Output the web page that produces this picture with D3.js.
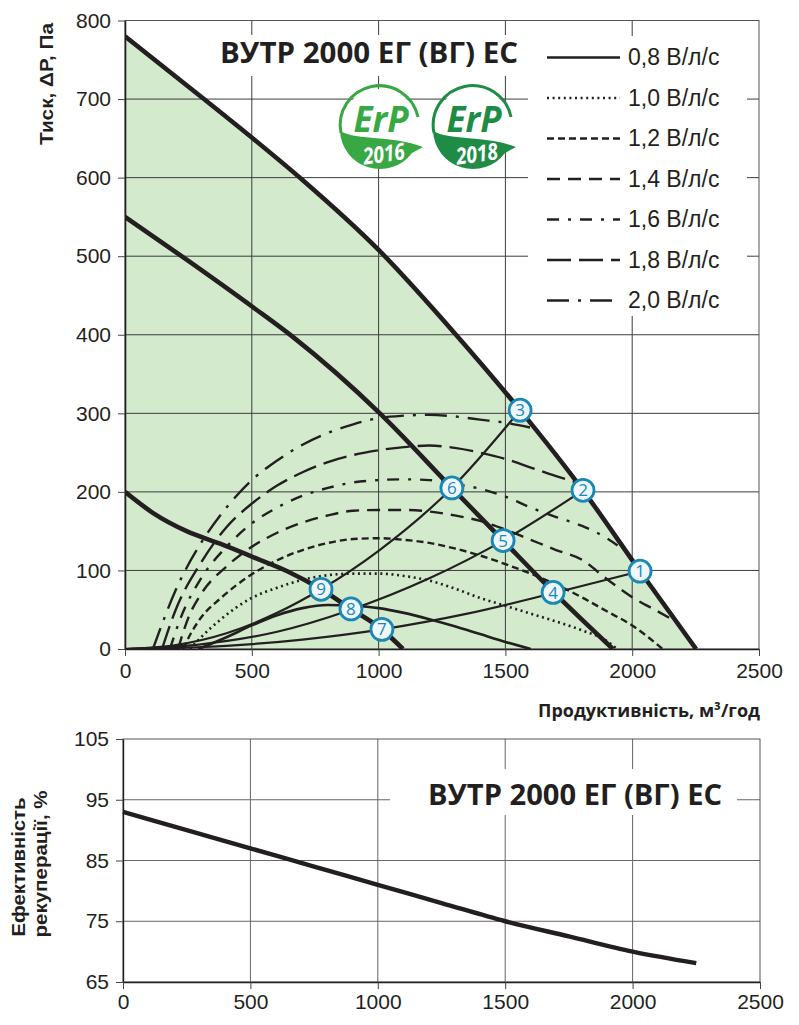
<!DOCTYPE html>
<html lang="uk">
<head>
<meta charset="utf-8">
<title>ВУТР 2000 ЕГ (ВГ) ЕС</title>
<script src="https://d3js.org/d3.v7.min.js"></script>
<style>
  body { margin: 0; background: #fff; }
  svg { display: block; }
  .tick text { font-family: "Liberation Sans", Arial, sans-serif; fill: #231f20; }
  .lbl { font-family: "Liberation Sans", Arial, sans-serif; font-weight: bold; fill: #231f20; }
  .ttl { font-family: "Open Sans", sans-serif; font-weight: 700; fill: #231f20; }
</style>
</head>
<body>
<div id="vis"></div>
<script>
// ---- data ----
const flowTicks = [0, 500, 1000, 1500, 2000, 2500];
const pressureTicks = [0, 100, 200, 300, 400, 500, 600, 700, 800];
const efficiencyTicks = [65, 75, 85, 95, 105];

// fan curves [flow m3/h, pressure Pa]
const fanHigh = [[0,780],[300,703],[500,651],[700,597],[1000,508],[1300,402],[1558,304],[1806,202],[2031,99],[2252,0]];
const fanMid  = [[0,550],[250,494],[505,435],[663,397],[1005,300],[1289,205],[1491,138],[1688,73],[1924,0]];
const fanLow  = [[0,200],[111,173],[243,150],[375,134],[505,117],[640,99],[773,76],[891,51],[1013,25],[1096,0]];

// system (network) curves
const sysA = [[0,0],[200,5],[400,20],[600,46],[773,76],[1000,125],[1289,205],[1558,304]];
const sysB = [[0,0],[300,6],[600,22],[891,50],[1200,90],[1491,138],[1806,202]];
const sysC = [[0,0],[400,4],[700,12],[1013,25],[1350,45],[1688,71],[2031,99]];

// SFP curves
const sfp08 = [[290,0],[400,15],[500,30],[600,43],[700,52],[800,56],[900,55],[1000,52],[1100,46],[1200,38],[1300,29],[1400,19],[1500,9],[1600,0]];
const sfp10 = [[256,0],[300,15],[375,37],[500,65],[600,78],[700,88],[800,94],[900,96],[1000,96],[1100,93],[1200,87],[1300,77],[1400,65],[1500,55],[1600,45],[1700,35],[1800,24],[1900,10],[1940,0]];
const sfp12 = [[229,0],[260,20],[300,40],[375,64],[500,95],[600,113],[700,126],[800,135],[900,140],[1000,141],[1100,139],[1200,135],[1300,128],[1400,119],[1500,108],[1600,96],[1700,82],[1800,66],[1900,48],[2000,30],[2120,0]];
const sfp14 = [[209,0],[250,40],[300,70],[400,105],[500,130],[600,148],[700,161],[800,170],[900,176],[1000,177],[1100,177],[1200,175],[1300,170],[1400,163],[1500,152],[1600,139],[1700,126],[1800,114],[1900,89],[2000,66],[2100,48],[2172,35]];
const sfp16 = [[177,0],[220,40],[300,90],[400,130],[500,160],[600,180],[700,195],[800,205],[900,212],[1000,215],[1100,216],[1200,215],[1300,210],[1400,204],[1500,194],[1600,180],[1700,168],[1800,157],[1900,141],[1983,122]];
const sfp18 = [[146,0],[200,50],[300,110],[400,155],[500,185],[600,208],[700,225],[800,238],[900,247],[1000,253],[1100,257],[1200,259],[1300,256],[1400,250],[1500,242],[1600,231],[1700,220],[1780,212]];
const sfp20 = [[110,0],[150,35],[200,75],[300,135],[400,180],[500,215],[600,240],[700,260],[800,275],[900,286],[1000,294],[1100,297],[1200,298],[1300,296],[1400,292],[1500,288],[1597,282]];

const sfpLabels = ["0,8 В/л/с", "1,0 В/л/с", "1,2 В/л/с", "1,4 В/л/с", "1,6 В/л/с", "1,8 В/л/с", "2,0 В/л/с"];
const sfpSeries = [sfp08, sfp10, sfp12, sfp14, sfp16, sfp18, sfp20];

// working points
const pointNames = ["1", "2", "3", "4", "5", "6", "7", "8", "9"];
const pointFlow  = [2031, 1806, 1558, 1688, 1491, 1289, 1013, 891, 773];
const pointPress = [99, 202, 304, 72, 138, 205, 25, 51, 76];

// heat recovery efficiency
const effFlow   = [0, 250, 500, 750, 1000, 1250, 1500, 1750, 2000, 2250];
const effValues = [93, 90, 87, 84, 81, 78, 75, 72.5, 70, 68.1];

const modelName = "ВУТР 2000 ЕГ (ВГ) ЕС";

// ---- styles ----
const dashes = [null, "2,3.6", "7,4", "13,8", "12,9,3,9", "24,8", "22,9,3,9"];
const sfpWidth = [2.6, 2.6, 2.4, 2.4, 2.4, 2.4, 2.4];
const green = "#d3eacd";
const grid = "#3c3c3c";
const blue = "#1a87b6";

const width = 799, height = 1025;
const svg = d3.select("#vis").append("svg").attr("width", width).attr("height", height);

// ===== top chart =====
const x = d3.scaleLinear().domain([0, 2500]).range([125, 759]);
const y = d3.scaleLinear().domain([0, 800]).range([649, 20.5]);

svg.append("clipPath").attr("id", "clipTop")
   .append("rect").attr("x", 125).attr("y", 20.5).attr("width", 634).attr("height", 628.5);

const topG = svg.append("g");

topG.append("path")
   .datum(fanHigh)
   .attr("fill", green)
   .attr("d", d3.area().x(d => x(d[0])).y0(y(0)).y1(d => y(d[1])).curve(d3.curveMonotoneX));

// grid
topG.selectAll(".vg").data(flowTicks.slice(1, -1)).join("line")
   .attr("x1", d => x(d)).attr("x2", d => x(d)).attr("y1", y(800)).attr("y2", y(0))
   .attr("stroke", grid).attr("stroke-width", 1);
topG.selectAll(".hg").data(pressureTicks.slice(1, -1)).join("line")
   .attr("x1", x(0)).attr("x2", x(2500)).attr("y1", d => y(d)).attr("y2", d => y(d))
   .attr("stroke", grid).attr("stroke-width", 1);
topG.append("rect").attr("x", x(0)).attr("y", y(800)).attr("width", x(2500) - x(0)).attr("height", y(0) - y(800))
   .attr("fill", "none").attr("stroke", "#555").attr("stroke-width", 1);

// title box
topG.append("rect").attr("x", 210).attr("y", 35).attr("width", 318).attr("height", 41).attr("fill", "#fff");
topG.append("text").attr("class", "ttl").attr("x", 220).attr("y", 63)
   .attr("font-size", 28).attr("textLength", 298).attr("lengthAdjust", "spacingAndGlyphs")
   .text(modelName);

// legend
topG.append("rect").attr("x", 528).attr("y", 36).attr("width", 219).attr("height", 280).attr("fill", "#fff");
const leg = topG.selectAll(".leg").data(sfpLabels).join("g")
   .attr("transform", (d, i) => `translate(0,${57.5 + i * 40.5})`);
leg.append("line").attr("x1", 547).attr("x2", 620).attr("y1", 0).attr("y2", 0)
   .attr("stroke", "#231f20").attr("stroke-width", (d, i) => sfpWidth[i])
   .attr("stroke-dasharray", (d, i) => dashes[i]);
leg.append("text").attr("x", 628).attr("y", 7.5)
   .attr("font-family", "Liberation Sans, Arial, sans-serif").attr("font-size", 23).attr("fill", "#231f20")
   .text(d => d);

// ErP logos
function erp(cx, cy, col, year) {
  const g = topG.append("g");
  const R = 40;
  g.append("circle").attr("cx", cx).attr("cy", cy).attr("r", R).attr("fill", "#fff");
  g.append("path")
   .attr("d", `M${cx - R + 1},${cy + 4} A${R - 1.5},${R - 1.5} 0 0 1 ${cx + R * 0.95},${cy - R * 0.3}`)
   .attr("fill", "none").attr("stroke", col).attr("stroke-width", 3);
  g.append("path")
   .attr("d", `M${cx - R},${cy + 2} C${cx - 22},${cy + 12} ${cx + 12},${cy + 6} ${cx + R + 3},${cy + 18}`
            + ` L${cx + R * 0.8},${cy + R * 0.6} A${R},${R} 0 0 1 ${cx - R},${cy + 2} Z`)
   .attr("fill", col);
  g.append("text").attr("x", cx + 1).attr("y", cy + 3).attr("text-anchor", "middle")
   .attr("font-family", "Open Sans, sans-serif").attr("font-weight", 700).attr("font-style", "italic")
   .attr("font-size", 36).attr("textLength", 55).attr("lengthAdjust", "spacingAndGlyphs")
   .attr("fill", col).text("ErP");
  g.append("text").attr("x", cx + 4).attr("y", cy + 33).attr("text-anchor", "middle")
   .attr("transform", `rotate(-8,${cx + 4},${cy + 26})`)
   .attr("font-family", "Open Sans, sans-serif").attr("font-weight", 700).attr("font-style", "italic")
   .attr("font-size", 23).attr("textLength", 42).attr("lengthAdjust", "spacingAndGlyphs")
   .attr("fill", "#fff").text(year);
}
erp(380, 129, "#37a843", "2016");
erp(473, 129, "#1f8c46", "2018");

// curves
const line = d3.line().x(d => x(d[0])).y(d => y(d[1])).curve(d3.curveMonotoneX);
const curves = topG.append("g").attr("clip-path", "url(#clipTop)").attr("fill", "none").attr("stroke", "#231f20");

curves.selectAll(".sfp").data(sfpSeries).join("path")
   .attr("d", line)
   .attr("stroke-width", (d, i) => sfpWidth[i])
   .attr("stroke-dasharray", (d, i) => dashes[i]);

curves.selectAll(".sys").data([sysA, sysB, sysC]).join("path")
   .attr("d", line).attr("stroke-width", 2.2);

curves.selectAll(".fan").data([fanHigh, fanMid, fanLow]).join("path")
   .attr("d", line).attr("stroke-width", 4.6).attr("stroke-linecap", "butt");

// working point markers
const pts = topG.selectAll(".pt").data(pointNames).join("g")
   .attr("transform", (d, i) => `translate(${x(pointFlow[i])},${y(pointPress[i])})`);
pts.append("circle").attr("r", 11).attr("fill", "#eef7fb").attr("stroke", blue).attr("stroke-width", 2.8);
pts.append("text").attr("text-anchor", "middle").attr("dy", "0.36em")
   .attr("font-family", "Open Sans, sans-serif").attr("font-size", 17).attr("fill", blue)
   .text(d => d);

// axes
const fmt = d3.format("d");
const axL = topG.append("g").attr("transform", `translate(${x(0)},0)`)
   .call(d3.axisLeft(y).tickValues(pressureTicks).tickFormat(fmt).tickSize(7).tickSizeOuter(0).tickPadding(7));
const axB = topG.append("g").attr("transform", `translate(0,${y(0)})`)
   .call(d3.axisBottom(x).tickValues(flowTicks).tickFormat(fmt).tickSize(7).tickSizeOuter(0).tickPadding(7));
[axL, axB].forEach(a => {
  a.selectAll("text").attr("font-size", 21);
  a.select(".domain").attr("stroke", "#231f20").attr("stroke-width", 1.6);
  a.selectAll(".tick line").attr("stroke", "#444");
});

topG.append("text").attr("class", "lbl")
   .attr("transform", "translate(53,84) rotate(-90)").attr("text-anchor", "middle")
   .attr("font-size", 18).attr("textLength", 122).attr("lengthAdjust", "spacingAndGlyphs")
   .text("Тиск,  ΔP, Па");

topG.append("text").attr("class", "ttl").attr("x", 760).attr("y", 717).attr("text-anchor", "end")
   .attr("font-size", 18).attr("textLength", 222).attr("lengthAdjust", "spacingAndGlyphs")
   .text("Продуктивність, м³/год");

// ===== bottom chart =====
const x2 = d3.scaleLinear().domain([0, 2500]).range([123, 760]);
const y2 = d3.scaleLinear().domain([65, 105]).range([982, 739]);
const bot = svg.append("g");

bot.selectAll(".vg").data(flowTicks.slice(1, -1)).join("line")
   .attr("x1", d => x2(d)).attr("x2", d => x2(d)).attr("y1", y2(105)).attr("y2", y2(65))
   .attr("stroke", "#666").attr("stroke-width", 1);
bot.selectAll(".hg").data(efficiencyTicks.slice(1, -1)).join("line")
   .attr("x1", x2(0)).attr("x2", x2(2500)).attr("y1", d => y2(d)).attr("y2", d => y2(d))
   .attr("stroke", "#666").attr("stroke-width", 1);
bot.append("rect").attr("x", x2(0)).attr("y", y2(105)).attr("width", x2(2500) - x2(0)).attr("height", y2(65) - y2(105))
   .attr("fill", "none").attr("stroke", "#555").attr("stroke-width", 1);

bot.append("rect").attr("x", 390).attr("y", 769).attr("width", 347).attr("height", 46).attr("fill", "#fff");
bot.append("text").attr("class", "ttl").attr("x", 428).attr("y", 805)
   .attr("font-size", 28).attr("textLength", 294).attr("lengthAdjust", "spacingAndGlyphs")
   .text(modelName);

bot.append("path")
   .datum(effFlow.map((f, i) => [f, effValues[i]]))
   .attr("fill", "none").attr("stroke", "#231f20").attr("stroke-width", 4.4)
   .attr("d", d3.line().x(d => x2(d[0])).y(d => y2(d[1])).curve(d3.curveMonotoneX));

const bL = bot.append("g").attr("transform", `translate(${x2(0)},0)`)
   .call(d3.axisLeft(y2).tickValues(efficiencyTicks).tickFormat(fmt).tickSize(7).tickSizeOuter(0).tickPadding(7));
const bB = bot.append("g").attr("transform", `translate(0,${y2(65)})`)
   .call(d3.axisBottom(x2).tickValues(flowTicks).tickFormat(fmt).tickSize(7).tickSizeOuter(0).tickPadding(5));
[bL, bB].forEach(a => {
  a.selectAll("text").attr("font-size", 21);
  a.select(".domain").attr("stroke", "#231f20").attr("stroke-width", 1.4);
  a.selectAll(".tick line").attr("stroke", "#444");
});

bot.append("text").attr("class", "lbl")
   .attr("transform", "translate(25,867) rotate(-90)").attr("text-anchor", "middle")
   .attr("font-size", 19).attr("textLength", 139).attr("lengthAdjust", "spacingAndGlyphs")
   .text("Ефективність");
bot.append("text").attr("class", "lbl")
   .attr("transform", "translate(47,864) rotate(-90)").attr("text-anchor", "middle")
   .attr("font-size", 19).attr("textLength", 147).attr("lengthAdjust", "spacingAndGlyphs")
   .text("рекуперації, %");
</script>
</body>
</html>
